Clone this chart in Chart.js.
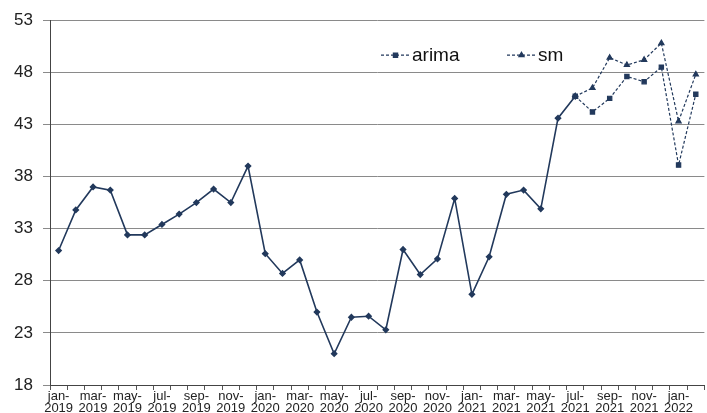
<!DOCTYPE html>
<html lang="en">
<head>
<meta charset="UTF-8">
<title>arima vs sm forecast</title>
<script src="https://cdn.jsdelivr.net/npm/chart.js"></script>
<style>
  html, body { margin: 0; padding: 0; background: #fff; overflow: hidden; }
  .wrap { position: relative; width: 710px; height: 413px; }
</style>
</head>
<body>
<div class="wrap"><canvas id="chart"></canvas></div>
<script>
// monthly categories, jan-2019 .. feb-2022
const months = [
  'jan-2019', 'feb-2019', 'mar-2019', 'apr-2019', 'may-2019', 'jun-2019',
  'jul-2019', 'aug-2019', 'sep-2019', 'oct-2019', 'nov-2019', 'dec-2019',
  'jan-2020', 'feb-2020', 'mar-2020', 'apr-2020', 'may-2020', 'jun-2020',
  'jul-2020', 'aug-2020', 'sep-2020', 'oct-2020', 'nov-2020', 'dec-2020',
  'jan-2021', 'feb-2021', 'mar-2021', 'apr-2021', 'may-2021', 'jun-2021',
  'jul-2021', 'aug-2021', 'sep-2021', 'oct-2021', 'nov-2021', 'dec-2021',
  'jan-2022', 'feb-2022'
];

// observed series (up to jul-2021)
const actual = [
  30.9, 34.8, 37.0, 36.7, 32.4, 32.4, 33.4, 34.4, 35.5, 36.8, 35.5, 39.0,
  30.6, 28.7, 30.0, 25.0, 21.0, 24.5, 24.6, 23.3, 31.0, 28.6, 30.1, 35.9,
  26.7, 30.3, 36.3, 36.7, 34.9, 43.6, 45.7,
  null, null, null, null, null, null, null
];

// forecasts from jul-2021
const arima = [
  null, null, null, null, null, null, null, null, null, null, null, null,
  null, null, null, null, null, null, null, null, null, null, null, null,
  null, null, null, null, null, null,
  45.7, 44.2, 45.5, 47.6, 47.1, 48.5, 39.1, 45.9
];
const sm = [
  null, null, null, null, null, null, null, null, null, null, null, null,
  null, null, null, null, null, null, null, null, null, null, null, null,
  null, null, null, null, null, null,
  45.7, 46.5, 49.4, 48.7, 49.2, 50.8, 43.3, 47.8
];

const yTicks = { min: 18, max: 53, step: 5 };

const navy = '#22395c';

// legend drawn inside the plot, like the original
const innerLegend = {
  id: 'innerLegend',
  afterDraw(chart) {
    const ctx = chart.ctx;
    const area = chart.chartArea;
    const items = [
      { ds: chart.data.datasets[1], x: area.left + 331 },
      { ds: chart.data.datasets[2], x: area.left + 457 }
    ];
    const y = area.top + 35;
    ctx.save();
    items.forEach(it => {
      ctx.strokeStyle = navy;
      ctx.lineWidth = 1.2;
      ctx.setLineDash([3, 2]);
      ctx.beginPath();
      ctx.moveTo(it.x, y);
      ctx.lineTo(it.x + 29, y);
      ctx.stroke();
      ctx.setLineDash([]);
      ctx.fillStyle = navy;
      Chart.helpers.drawPoint(ctx, {
        pointStyle: it.ds.pointStyle,
        radius: 3,
        rotation: 0,
        borderWidth: 1
      }, it.x + 14.5, y);
      ctx.fillStyle = '#111';
      ctx.font = '19px "Liberation Sans", Arial, sans-serif';
      ctx.textBaseline = 'middle';
      ctx.textAlign = 'left';
      ctx.fillText(it.ds.label, it.x + 31, y + 1);
    });
    ctx.restore();
  }
};

const ctx = document.getElementById('chart').getContext('2d');
new Chart(ctx, {
  type: 'line',
  data: {
    labels: months,
    datasets: [
      {
        label: 'actual',
        data: actual,
        borderColor: navy,
        backgroundColor: navy,
        borderWidth: 1.6,
        pointStyle: 'rectRot',
        pointRadius: 2.5,
        tension: 0
      },
      {
        label: 'arima',
        data: arima,
        borderColor: navy,
        backgroundColor: navy,
        borderWidth: 1.2,
        borderDash: [3, 2],
        pointStyle: 'rect',
        pointRadius: 3,
        tension: 0
      },
      {
        label: 'sm',
        data: sm,
        borderColor: navy,
        backgroundColor: navy,
        borderWidth: 1.2,
        borderDash: [3, 2],
        pointStyle: 'triangle',
        pointRadius: 3,
        tension: 0
      }
    ]
  },
  options: {
    responsive: true,
    maintainAspectRatio: false,
    animation: false,
    layout: { padding: { top: 20, left: 0, right: 0, bottom: 0 } },
    plugins: {
      legend: { display: false },
      tooltip: { enabled: false }
    },
    scales: {
      x: {
        offset: true,
        afterFit(scale) { scale.height = 28; },
        grid: {
          offset: true,
          drawOnChartArea: false,
          drawTicks: true,
          tickLength: 5,
          color: '#555'
        },
        border: { color: '#444', width: 1 },
        ticks: {
          autoSkip: false,
          maxRotation: 0,
          minRotation: 0,
          padding: 0,
          color: '#222',
          font: { family: '"Liberation Sans", Arial, sans-serif', size: 13, lineHeight: 0.95 },
          callback(value, index) {
            if (index % 2 !== 0) return '';
            const parts = months[index].split('-');
            return [parts[0] + '-', parts[1]];
          }
        }
      },
      y: {
        min: yTicks.min,
        max: yTicks.max,
        afterFit(scale) { scale.width = 50; },
        grid: {
          color: '#8a8a8a',
          lineWidth: 1,
          tickLength: 7
        },
        border: { color: '#444', width: 1 },
        ticks: {
          stepSize: yTicks.step,
          padding: 10,
          color: '#222',
          font: { family: '"Liberation Sans", Arial, sans-serif', size: 17 }
        }
      }
    }
  },
  plugins: [innerLegend]
});
</script>
</body>
</html>
